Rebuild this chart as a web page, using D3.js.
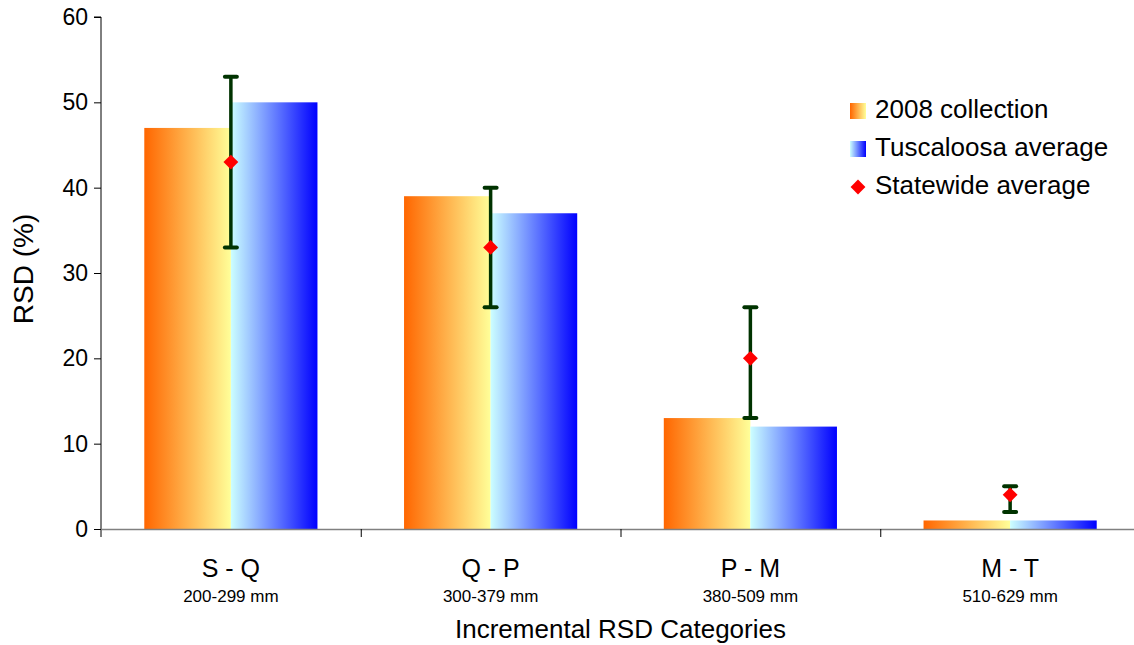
<!DOCTYPE html>
<html>
<head>
<meta charset="utf-8">
<script src="https://cdn.jsdelivr.net/npm/d3@7"></script>
<style>
  html, body { margin: 0; padding: 0; background: #fff; }
  svg { display: block; font-family: "Liberation Sans", Arial, sans-serif; }
</style>
</head>
<body>
<svg id="chart" width="1134" height="645"></svg>
<script>
// ---- data ----
const categories = ["S - Q", "Q - P", "P - M", "M - T"];
const subLabels = ["200-299 mm", "300-379 mm", "380-509 mm", "510-629 mm"];
const collection2008 = [47, 39, 13, 1];
const tuscaloosaAvg = [50, 37, 12, 1];
const statewideAvg = [43, 33, 20, 4];
const statewideLow = [33, 26, 13, 2];
const statewideHigh = [53, 40, 26, 5];
const seriesNames = ["2008 collection", "Tuscaloosa average", "Statewide average"];
const yTicks = [0, 10, 20, 30, 40, 50, 60];

// ---- layout ----
const svg = d3.select("#chart");
const pLeft = 101, pRight = 1140, pTop = 17, pBottom = 529;

const x0 = d3.scaleBand().domain(categories).range([pLeft, pRight]).paddingInner(0).paddingOuter(0);
const x1 = d3.scaleBand().domain(["a", "b"]).range([0, x0.bandwidth()]).paddingInner(0).paddingOuter(0.5);
const y = d3.scaleLinear().domain([0, 60]).range([pBottom, pTop]);

// gradients
const defs = svg.append("defs");
const gO = defs.append("linearGradient").attr("id", "gOrange").attr("x1", "0%").attr("x2", "100%").attr("y1", "0%").attr("y2", "0%");
gO.append("stop").attr("offset", "0%").attr("stop-color", "#FF6600");
gO.append("stop").attr("offset", "100%").attr("stop-color", "#FFFF99");
const gB = defs.append("linearGradient").attr("id", "gBlue").attr("x1", "0%").attr("x2", "100%").attr("y1", "0%").attr("y2", "0%");
gB.append("stop").attr("offset", "0%").attr("stop-color", "#CCFFFF");
gB.append("stop").attr("offset", "100%").attr("stop-color", "#0000FF");

// bars
const rows = categories.map((c, i) => ({ c, a: collection2008[i], b: tuscaloosaAvg[i] }));
svg.append("g").selectAll("rect").data(rows).join("rect")
  .attr("x", d => x0(d.c) + x1("a"))
  .attr("y", d => y(d.a))
  .attr("width", x1.bandwidth())
  .attr("height", d => y(0) - y(d.a))
  .attr("fill", "url(#gOrange)");
svg.append("g").selectAll("rect").data(rows).join("rect")
  .attr("x", d => x0(d.c) + x1("b"))
  .attr("y", d => y(d.b))
  .attr("width", x1.bandwidth())
  .attr("height", d => y(0) - y(d.b))
  .attr("fill", "url(#gBlue)");

// axes
const yAxis = d3.axisLeft(y).tickValues(yTicks).tickSize(7).tickPadding(6).tickFormat(d3.format("d"));
const gy = svg.append("g").attr("transform", `translate(${pLeft},0)`).call(yAxis);
gy.select(".domain").attr("stroke", "#000").attr("stroke-width", 1).attr("d", `M-7,${pTop}H0V${pBottom + 8}`);
gy.selectAll(".tick line").attr("stroke", "#000");
gy.selectAll(".tick text").attr("font-size", 23).attr("fill", "#000").attr("font-family", "Liberation Sans, Arial, sans-serif");

// x axis line
svg.append("line").attr("x1", pLeft).attr("x2", 1134).attr("y1", pBottom + 0.5).attr("y2", pBottom + 0.5)
  .attr("stroke", "#808080").attr("stroke-width", 1.5);
// x ticks at band boundaries
svg.append("g").selectAll("line").data(categories.slice(1)).join("line")
  .attr("x1", d => x0(d) + 0.5).attr("x2", d => x0(d) + 0.5)
  .attr("y1", pBottom).attr("y2", pBottom + 8)
  .attr("stroke", "#000").attr("stroke-width", 1);

// category labels
svg.append("g").selectAll("text").data(categories).join("text")
  .attr("x", d => x0(d) + x0.bandwidth() / 2)
  .attr("y", 577)
  .attr("text-anchor", "middle")
  .attr("font-size", 25)
  .text(d => d);
svg.append("g").selectAll("text").data(subLabels).join("text")
  .attr("x", (d, i) => x0(categories[i]) + x0.bandwidth() / 2)
  .attr("y", 602)
  .attr("text-anchor", "middle")
  .attr("font-size", 17)
  .text(d => d);

// axis titles
svg.append("text").attr("x", (pLeft + pRight) / 2).attr("y", 638).attr("text-anchor", "middle")
  .attr("font-size", 26).text("Incremental RSD Categories");
svg.append("text").attr("transform", `translate(33,269) rotate(-90)`).attr("text-anchor", "middle")
  .attr("font-size", 28).text("RSD (%)");

// error bars
const errG = svg.append("g");
categories.forEach((c, i) => {
  const cx = x0(c) + x0.bandwidth() / 2;
  errG.append("line").attr("x1", cx).attr("x2", cx).attr("y1", y(statewideLow[i])).attr("y2", y(statewideHigh[i]))
    .attr("stroke", "#003300").attr("stroke-width", 3.5);
  [statewideLow[i], statewideHigh[i]].forEach(v => {
    errG.append("line").attr("x1", cx - 6).attr("x2", cx + 6).attr("y1", y(v)).attr("y2", y(v))
      .attr("stroke", "#003300").attr("stroke-width", 4).attr("stroke-linecap", "round");
  });
});
// diamonds
const diamond = d3.symbol().type(d3.symbolSquare).size(110);
svg.append("g").selectAll("path").data(statewideAvg).join("path")
  .attr("d", diamond)
  .attr("transform", (d, i) => `translate(${x0(categories[i]) + x0.bandwidth() / 2},${y(d)}) rotate(45)`)
  .attr("fill", "#FF0000");

// legend
const lg = svg.append("g");
lg.append("rect").attr("x", 850).attr("y", 103).attr("width", 16).attr("height", 16).attr("fill", "url(#gOrange)");
lg.append("rect").attr("x", 850).attr("y", 141).attr("width", 16).attr("height", 16).attr("fill", "url(#gBlue)");
lg.append("path").attr("d", diamond).attr("transform", "translate(858,187) rotate(45)").attr("fill", "#FF0000");
lg.selectAll("text").data(seriesNames).join("text")
  .attr("x", 875).attr("y", (d, i) => 118 + i * 38)
  .attr("font-size", 26)
  .text(d => d);
</script>
</body>
</html>
